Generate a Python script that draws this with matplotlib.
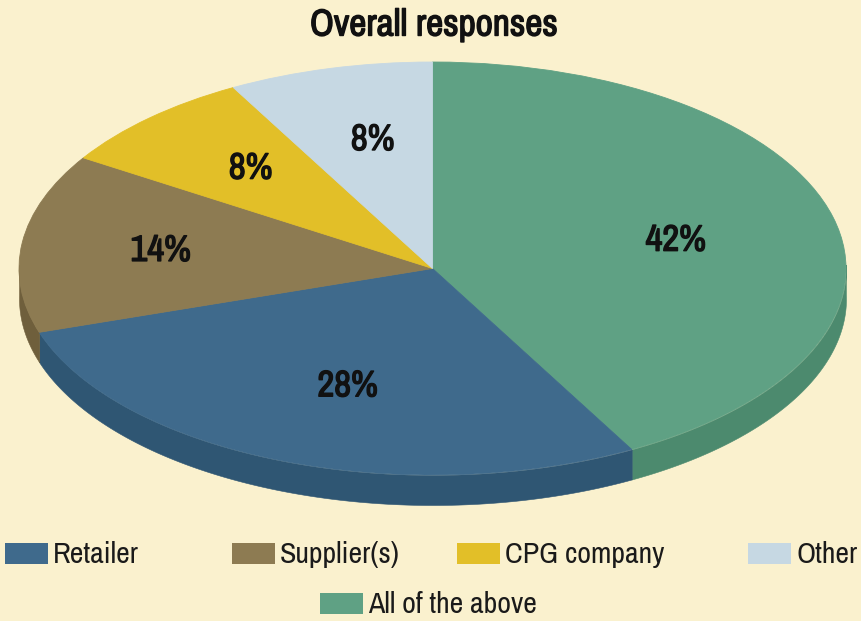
import numpy as np
import matplotlib
matplotlib.use("Agg")
import matplotlib.pyplot as plt
import matplotlib.patheffects as pe

slice_names = ["All of the above", "Retailer", "Supplier(s)", "CPG company", "Other"]
values = [42, 28, 14, 8, 8]
labels = ["42%", "28%", "14%", "8%", "8%"]
top_colors = ["#5FA184", "#3F6A8C", "#8D7B52", "#E2BF28", "#C6D8E3"]
side_colors = ["#4C8A6E", "#2F5673", "#6F5F3C", "#B89A20", "#A5B8C4"]
legend_names = ["Retailer", "Supplier(s)", "CPG company", "Other", "All of the above"]
title = "Overall responses"

BG = "#FAF1CE"
W, H = 861, 621
CX, CY, RX, RY, DEPTH = 432.5, 268.5, 413.5, 206.5, 30
FAM = ["Archivo Narrow", "Liberation Sans Narrow", "Liberation Sans", "DejaVu Sans"]
BOLD = [pe.withStroke(linewidth=1.0, foreground="#111111")]

fig = plt.figure(figsize=(W / 100, H / 100), dpi=100, facecolor=BG)
ax = fig.add_axes([0, 0, 1, 1])
ax.set_facecolor(BG)

# side wall, drawn in the same data space as the pie (radius 1)
d = DEPTH / RY
angle = 90.0
total = sum(values)
for v, c in zip(values, side_colors):
    sweep = 360.0 * v / total
    t = np.radians(np.linspace(angle, angle - sweep, 200))
    x, y = np.cos(t), np.sin(t)
    mask = y <= 0.02
    if mask.any():
        ax.fill_between(x[mask], y[mask], y[mask] - d, color=c, lw=0.4, zorder=1)
    angle -= sweep

wedges, _ = ax.pie(values, colors=top_colors, startangle=90, counterclock=False,
                   radius=1, center=(0, 0), wedgeprops=dict(zorder=2))
for w, c in zip(wedges, top_colors):
    w.set_edgecolor(c)
    w.set_linewidth(0.6)

ax.set_aspect("auto")
ax.set_xlim(-CX / RX, (W - CX) / RX)
ax.set_ylim(-(H - CY) / RY, CY / RY)
ax.axis("off")

# percentage labels, placed along each slice's mid angle, then nudged in pixels
radial = [0.59, 0.59, 0.66, 0.66, 0.63]
nudge_px = [(7, 2), (5, 4), (-1, -1), (5, -1), (5, -3)]
angle = 90.0
for v, lab, r, (nx, ny) in zip(values, labels, radial, nudge_px):
    sweep = 360.0 * v / total
    a = np.radians(angle - sweep / 2)
    ax.annotate(lab, xy=(r * np.cos(a), r * np.sin(a)), xytext=(nx, -ny),
                textcoords="offset pixels", ha="center", va="center",
                fontsize=26.5, family=FAM, color="#111111", zorder=5, path_effects=BOLD)
    angle -= sweep

fig.text(434 / W, 1 - 25 / H, title, ha="center", va="center", fontsize=27,
         family=FAM, color="#111111", path_effects=BOLD)

# legend
color_of = dict(zip(slice_names, top_colors))
swatch_x = [5, 232, 457, 748, 320]
swatch_y = [553.5, 553.5, 553.5, 553.5, 603.5]
for name, sx, sy in zip(legend_names, swatch_x, swatch_y):
    fig.patches.append(plt.Rectangle((sx / W, 1 - (sy + 10.5) / H), 43 / W, 21 / H,
                                     transform=fig.transFigure, color=color_of[name], lw=0))
    fig.text((sx + 48) / W, 1 - (sy + 1) / H, name, ha="left", va="center", fontsize=21.5,
             family=FAM, color="#1a1a1a")

fig.savefig("out.png", dpi=100, facecolor=BG)
